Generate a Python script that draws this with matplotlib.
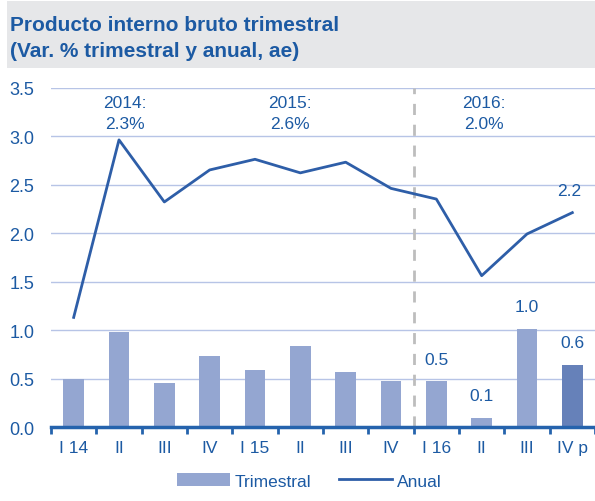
import matplotlib.pyplot as plt
from matplotlib.patches import Rectangle, Patch
from matplotlib.lines import Line2D

categories = ['I 14', 'II', 'III', 'IV', 'I 15', 'II', 'III', 'IV', 'I 16', 'II', 'III', 'IV p']
trimestral = [0.50, 0.98, 0.45, 0.73, 0.59, 0.84, 0.57, 0.47, 0.47, 0.09, 1.01, 0.64]
anual = [1.13, 2.96, 2.32, 2.65, 2.76, 2.62, 2.73, 2.46, 2.35, 1.56, 1.99, 2.21]
year_notes = [('2014:\n2.3%', 1.13), ('2015:\n2.6%', 4.78), ('2016:\n2.0%', 9.04)]

blue_text = '#1C5AA3'
line_col = '#2E5EA8'
bar_col = '#94A6D1'
bar_last = '#6681B9'
grid_col = '#B7C4E6'

plt.rcParams['font.family'] = ['Liberation Sans', 'DejaVu Sans']

fig = plt.figure(figsize=(5.95, 5.02), dpi=100)

# title band
fig.patches.append(Rectangle((7 / 595, 1 - 69 / 502), 1, 67 / 502, transform=fig.transFigure,
                             facecolor='#E6E7E9', edgecolor='none', zorder=0))
fig.text(10 / 595, 1 - 31 / 502, 'Producto interno bruto trimestral', ha='left', va='baseline',
         fontsize=15, fontweight='bold', color=blue_text)
fig.text(10 / 595, 1 - 57 / 502, '(Var. % trimestral y anual, ae)', ha='left', va='baseline',
         fontsize=15, fontweight='bold', color=blue_text)

ax = fig.add_axes([51 / 595, 0.1474, 1 - 51 / 595, 0.8237 - 0.1474])
x = list(range(len(categories)))
colors = [bar_col] * (len(categories) - 1) + [bar_last]
ax.bar(x, trimestral, width=0.46, color=colors, zorder=2)
ax.plot(x, anual, color=line_col, lw=2, zorder=3)

ax.set_xlim(-0.5, len(categories) - 0.5)
ax.set_ylim(0, 3.5)
ax.set_yticks([0.0, 0.5, 1.0, 1.5, 2.0, 2.5, 3.0, 3.5])
ax.set_yticklabels([f'{v:.1f}' for v in ax.get_yticks()])
ax.yaxis.grid(True, color=grid_col, lw=1, zorder=0)
ax.set_axisbelow(True)

ax.set_xticks([i - 0.5 for i in range(len(categories) + 1)])
ax.set_xticklabels([])
ax.set_xticks(x, minor=True)
ax.set_xticklabels(categories, minor=True)
ax.tick_params(axis='x', which='major', direction='out', length=5, width=2, color='#2563AD')
ax.tick_params(axis='x', which='minor', length=0, pad=9, labelsize=12.5, labelcolor=blue_text)
ax.tick_params(axis='y', length=0, pad=12, labelsize=13, labelcolor=blue_text)

for s in ['top', 'right', 'left']:
    ax.spines[s].set_visible(False)
ax.spines['bottom'].set_color('#2563AD')
ax.spines['bottom'].set_linewidth(2.5)
ax.spines['bottom'].set_zorder(4)

ax.axvline(7.5, ymin=0, ymax=1, color='#BDBDBD', lw=2, dashes=(4, 3.5), zorder=1)

for txt, xp in year_notes:
    ax.text(xp, 3.24, txt, ha='center', va='center', multialignment='center',
            fontsize=12.5, color=blue_text, linespacing=1.5)

for i in range(8, 12):
    ax.text(i, trimestral[i] + 0.23, f'{trimestral[i]:.1f}', ha='center', va='center',
            fontsize=12.5, color=blue_text)
ax.text(10.93, anual[-1] + 0.23, f'{anual[-1]:.1f}', ha='center', va='center',
        fontsize=12.5, color=blue_text)

handles = [Patch(facecolor=bar_col, edgecolor='none'), Line2D([0], [0], color=line_col, lw=2)]
fig.legend(handles, ['Trimestral', 'Anual'], loc='center', bbox_to_anchor=(0.52, 0.040),
           ncol=2, frameon=False, fontsize=12.5, labelcolor=blue_text, handlelength=3.05,
           handleheight=0.75, columnspacing=1.6, handletextpad=0.3)

fig.savefig('out.png', dpi=100)
